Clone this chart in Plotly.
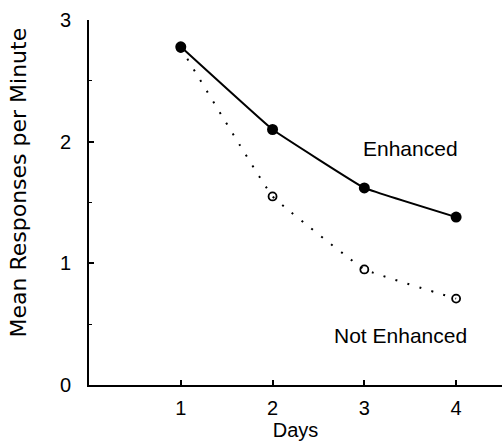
import plotly.graph_objects as go

days = [1, 2, 3, 4]
enhanced = [2.78, 2.10, 1.62, 1.38]
not_enhanced = [2.77, 1.55, 0.95, 0.71]
x_ticks = [1, 2, 3, 4]
y_ticks = [0, 1, 2, 3]

FONT = "Liberation Sans, Arial, sans-serif"

fig = go.Figure()

fig.add_trace(go.Scatter(
    x=days, y=not_enhanced, mode="lines",
    line=dict(color="black", width=2, dash="2px,10.5px", shape="spline", smoothing=0.2),
    showlegend=False, hoverinfo="skip", cliponaxis=False))
fig.add_trace(go.Scatter(
    x=days, y=not_enhanced, mode="markers",
    marker=dict(symbol="circle-open", size=8, color="black", line=dict(width=1.8)),
    showlegend=False, cliponaxis=False))
fig.add_trace(go.Scatter(
    x=days, y=enhanced, mode="lines+markers",
    line=dict(color="black", width=2, shape="spline", smoothing=0.2),
    marker=dict(symbol="circle", size=11, color="black"),
    showlegend=False, cliponaxis=False))

fig.add_annotation(x=3.5, y=1.94, text="Enhanced", showarrow=False,
                   font=dict(family=FONT, size=21, color="black"))
fig.add_annotation(x=3.39, y=0.41, text="Not Enhanced", showarrow=False,
                   font=dict(family=FONT, size=21, color="black"))
fig.add_annotation(xref="paper", yref="paper", x=(18 - 89) / 413, y=(385 - 182.5) / 365,
                   xanchor="center", yanchor="middle", textangle=-90,
                   text="Mean Responses per Minute", showarrow=False,
                   font=dict(family="DejaVu Sans", size=22, color="black"))

fig.update_layout(
    width=502, height=446,
    margin=dict(l=89, r=0, t=20, b=61),
    plot_bgcolor="white", paper_bgcolor="white",
    font=dict(family=FONT, size=20, color="black"),
    xaxis=dict(
        range=[0, 4.5], tickvals=x_ticks, ticktext=[str(v) for v in x_ticks],
        showgrid=False, zeroline=False, showline=True, linecolor="black", linewidth=2,
        ticks="inside", ticklen=5, tickwidth=1.5, tickcolor="black",
        ticklabelstandoff=4,
        tickfont=dict(family=FONT, size=20),
        title=dict(text="Days", font=dict(family=FONT, size=20), standoff=2),
    ),
    yaxis=dict(
        range=[0, 3], tickvals=y_ticks, ticktext=[str(v) for v in y_ticks],
        showgrid=False, zeroline=False, showline=True, linecolor="black", linewidth=2,
        ticks="inside", ticklen=5, tickwidth=1.5, tickcolor="black",
        minor=dict(dtick=0.5, ticks="inside", ticklen=3, tickwidth=1.2, tickcolor="black", showgrid=False),
        ticklabelstandoff=12,
        tickfont=dict(family=FONT, size=20),
    ),
)

fig.write_html("out.html")
